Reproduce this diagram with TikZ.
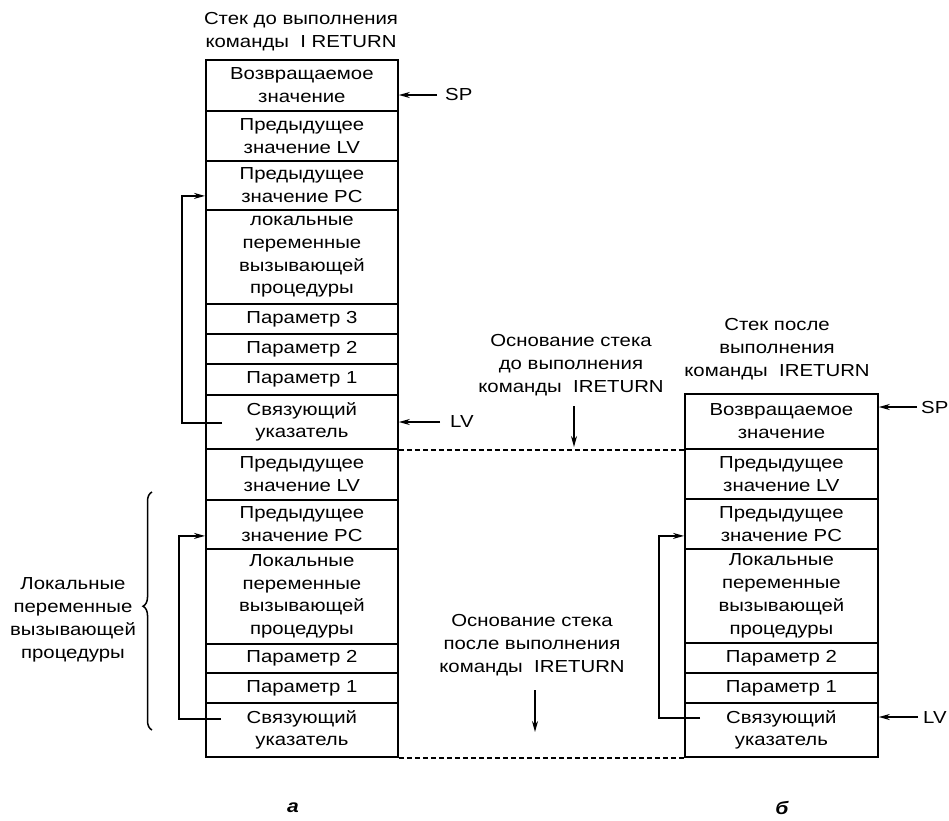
\documentclass[tikz,border=0pt]{standalone}
\usepackage{fontspec}
\setmainfont{Liberation Sans}[FakeStretch=1.17]
\usetikzlibrary{arrows.meta,decorations.pathreplacing}
\newcommand\figtxt{\fontsize{17.4}{22.8}\selectfont}
\begin{document}
\begin{tikzpicture}[x=1pt,y=-1pt,
  cell/.style={draw,line width=1.8pt,anchor=north west,minimum width=192pt,inner sep=0pt,align=center,font=\figtxt},
  rcell/.style={cell,minimum width=193pt},
  lab/.style={inner sep=0pt,font=\figtxt},
  hdr/.style={inner sep=0pt,align=center,font=\figtxt},
  ptr/.style={line width=1.5pt,-{Stealth[length=11pt,width=6pt]}},
  base/.style={dash pattern=on 5pt off 3pt,line width=1.5pt},
  tag/.style={inner sep=0pt,font=\fontsize{18}{20}\selectfont\bfseries\itshape}]
\useasboundingbox (0,0) rectangle (949,820);

% headers
\node[hdr] (h1) at (301,32) {Стек до выполнения\\команды~~I RETURN};
\node[hdr] (h2) at (571,365) {Основание стека\\до выполнения\\команды~~IRETURN};
\node[hdr] (h3) at (777,349) {Стек после\\выполнения\\команды~~IRETURN};
\node[hdr] (h4) at (532,645) {Основание стека\\после выполнения\\команды~~IRETURN};
\node[hdr] (hb) at (73,620) {Локальные\\переменные\\вызывающей\\процедуры};

% left stack
\node[cell,minimum height=51pt] (L1) at (205,59) {Возвращаемое\\значение};
\node[cell,minimum height=50pt] (L2) at (205,110) {Предыдущее\\значение LV};
\node[cell,minimum height=49pt] (L3) at (205,160) {Предыдущее\\значение PC};
\node[cell,minimum height=94pt] (L4) at (205,209) {локальные\\переменные\\вызывающей\\процедуры};
\node[cell,minimum height=30pt] (L5) at (205,303) {Параметр 3};
\node[cell,minimum height=30pt] (L6) at (205,333) {Параметр 2};
\node[cell,minimum height=31pt] (L7) at (205,363) {Параметр 1};
\node[cell,minimum height=54pt] (L8) at (205,394) {Связующий\\указатель};
\node[cell,minimum height=51pt] (L9) at (205,448) {Предыдущее\\значение LV};
\node[cell,minimum height=49pt] (L10) at (205,499) {Предыдущее\\значение PC};
\node[cell,minimum height=95pt] (L11) at (205,548) {Локальные\\переменные\\вызывающей\\процедуры};
\node[cell,minimum height=29pt] (L12) at (205,643) {Параметр 2};
\node[cell,minimum height=30pt] (L13) at (205,672) {Параметр 1};
\node[cell,minimum height=54pt] (L14) at (205,702) {Связующий\\указатель};

% right stack
\node[rcell,minimum height=55pt] (R1) at (684,393) {Возвращаемое\\значение};
\node[rcell,minimum height=50pt] (R2) at (684,448) {Предыдущее\\значение LV};
\node[rcell,minimum height=50pt] (R3) at (684,498) {Предыдущее\\значение PC};
\node[rcell,minimum height=94pt] (R4) at (684,548) {Локальные\\переменные\\вызывающей\\процедуры};
\node[rcell,minimum height=30pt] (R5) at (684,642) {Параметр 2};
\node[rcell,minimum height=30pt] (R6) at (684,672) {Параметр 1};
\node[rcell,minimum height=54pt] (R7) at (684,702) {Связующий\\указатель};

% stack bases
\draw[base] (L8.south east) -- (R1.south west);
\draw[base] (L14.south east) -- (R7.south west);
\coordinate (d1s) at (574,406);
\coordinate (d1e) at (574,447);
\draw[ptr] (d1s) -- (d1e);
\coordinate (d2s) at (535,690);
\coordinate (d2e) at (535,732);
\draw[ptr] (d2s) -- (d2e);

% SP / LV pointers
\node[lab,anchor=west] (sp1) at (445,95) {SP};
\draw[ptr] ([xshift=-8pt]sp1.west) -- (sp1.west -| L1.east);
\node[lab,anchor=west] (lv1) at (450,422) {LV};
\draw[ptr] ([xshift=-10pt]lv1.west) -- (lv1.west -| L8.east);
\node[lab,anchor=west] (sp2) at (921,407) {SP};
\draw[ptr] ([xshift=-4pt]sp2.west) -- (sp2.west -| R1.east);
\node[lab,anchor=west] (lv2) at (923,717) {LV};
\draw[ptr] ([xshift=-5pt]lv2.west) -- (lv2.west -| R7.east);

% link pointers
\draw[ptr] ([xshift=17pt,yshift=-1pt]L8.west) -- ++(-40,0) |- ([yshift=-10.5pt]L3.west);
\draw[ptr] ([xshift=16pt,yshift=11pt]L14.west) -- ++(-42,0) |- ([yshift=-11.5pt]L10.west);
\draw[ptr] ([xshift=16pt,yshift=12pt]R7.west) -- ++(-41,0) |- ([yshift=-12pt]R3.west);

% brace
\coordinate (bb) at (152,730);
\coordinate (bt) at (152,492);
\draw[line width=1.5pt,decorate,decoration={brace,amplitude=9pt,aspect=0.52}] (bb) -- (bt);

% sub-figure tags
\node[tag] (ta) at (293,808) {а};
\node[tag] (tb) at (782,808) {б};
\end{tikzpicture}
\end{document}
